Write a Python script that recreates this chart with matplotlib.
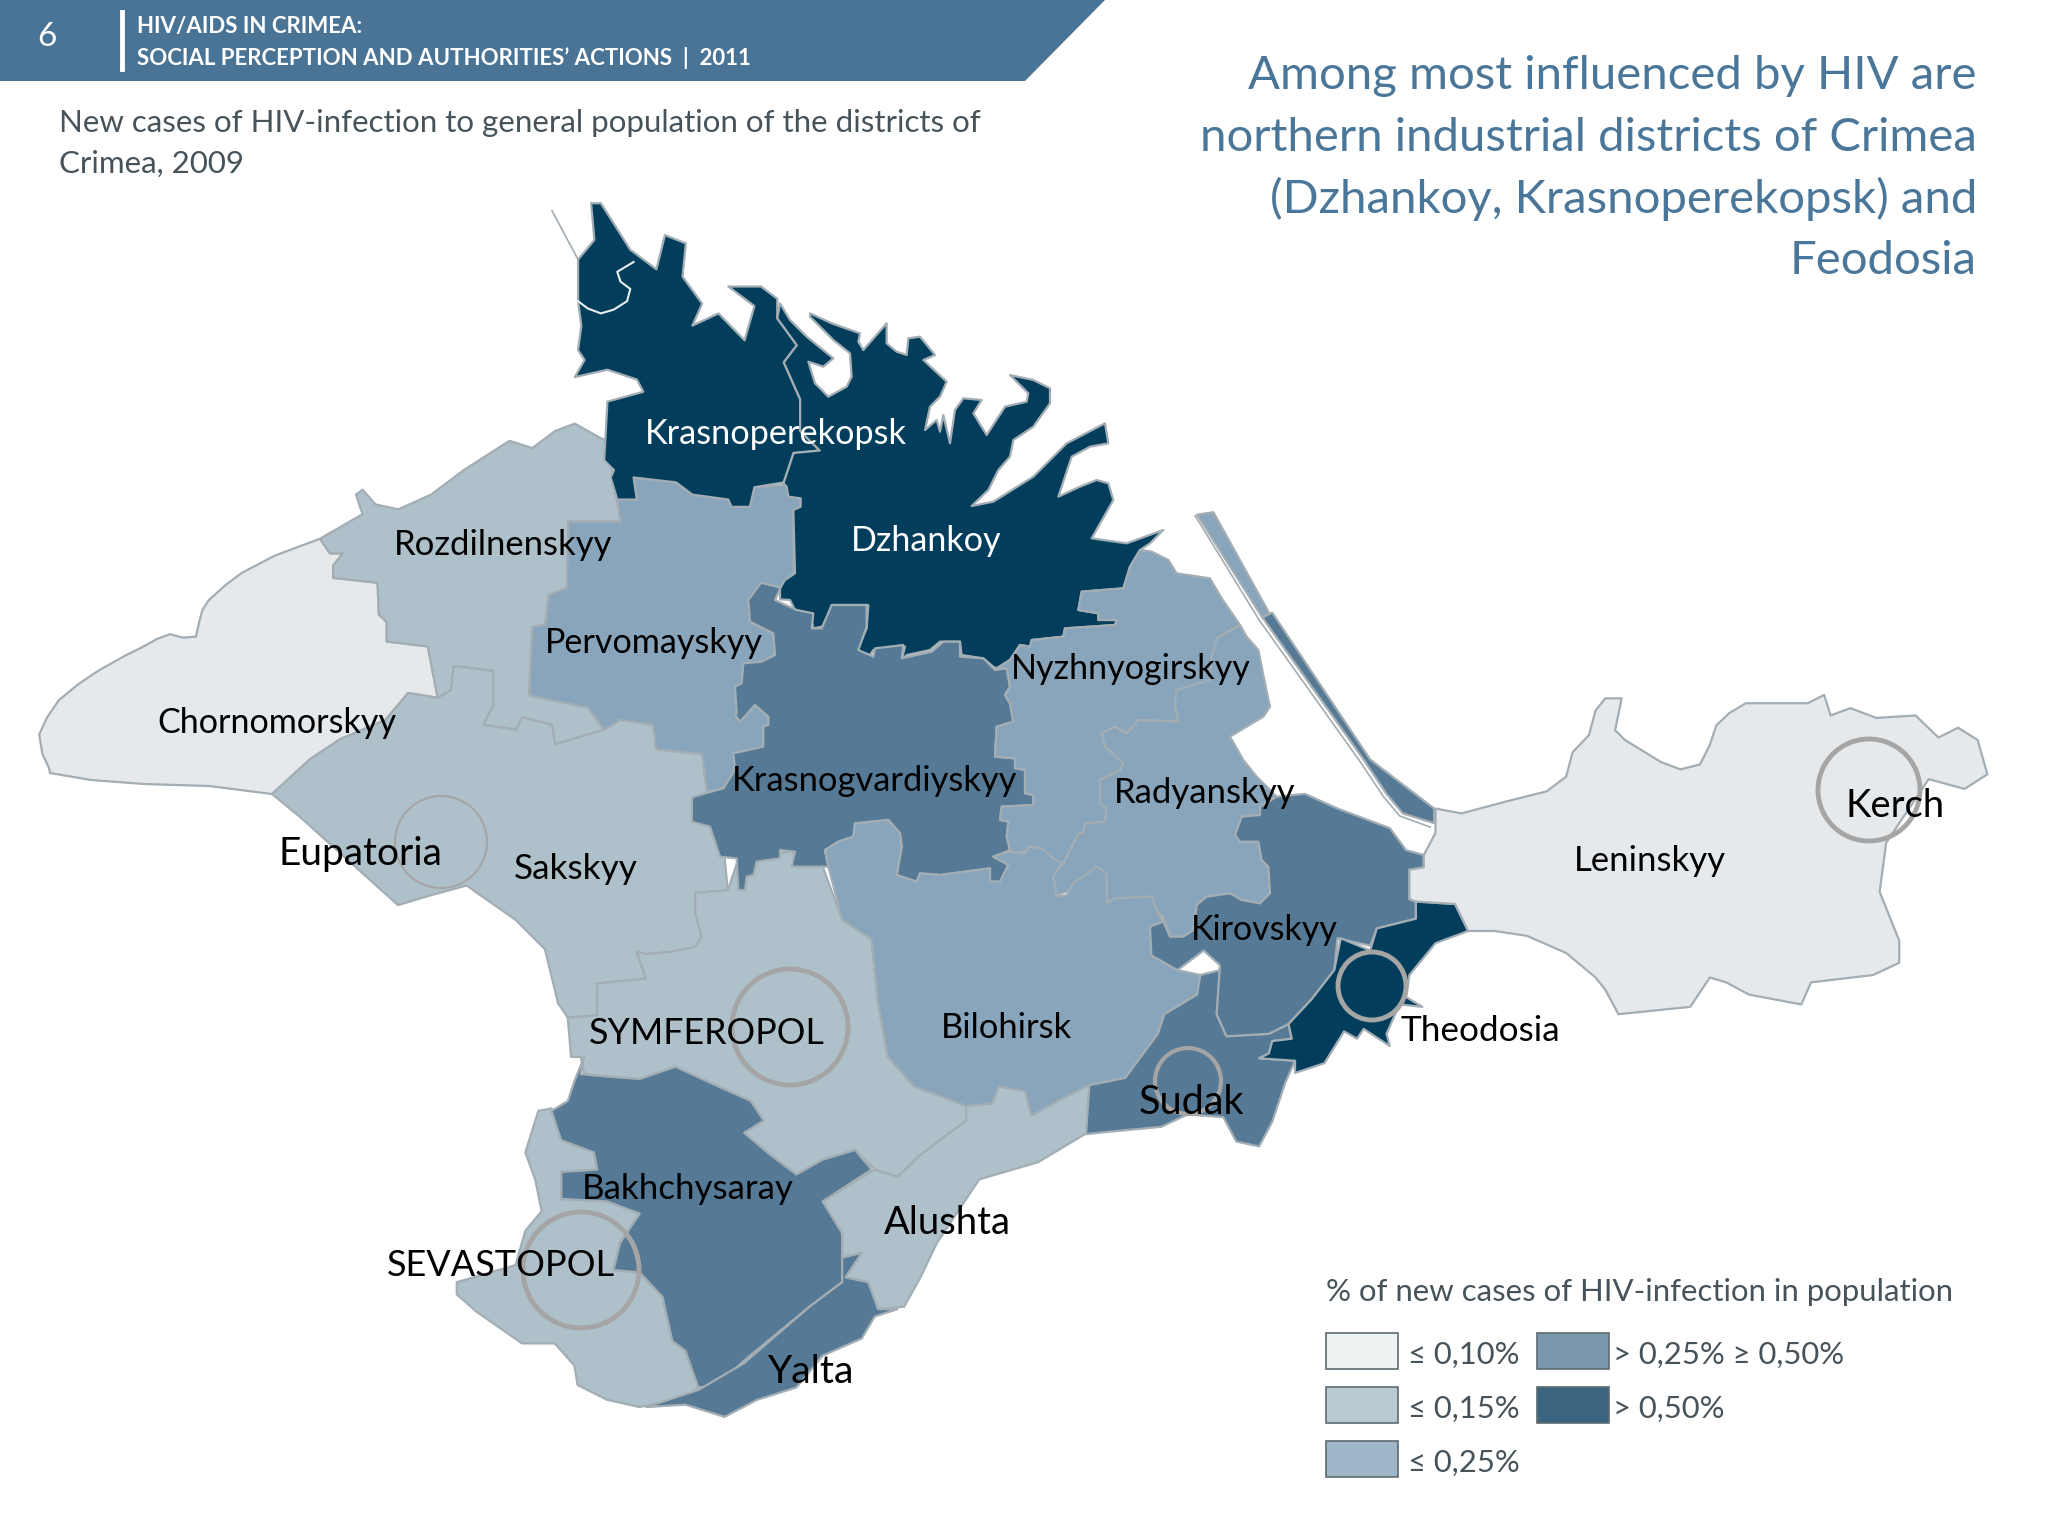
import numpy as np
import matplotlib
matplotlib.use('Agg')
import matplotlib.pyplot as plt
from matplotlib.patches import Polygon, Ellipse, Rectangle

plt.rcParams['font.family'] = ['Lato', 'DejaVu Sans']

Z1 = (0, 0, 1.531, 2.042)
Z2 = (1024, 500, 1.531, 2.042)
Z3 = (300, 768, 1.531, 2.042)
Z5 = (780, 280, 3, 3)
Z6 = (700, 600, 3, 3)
Z7 = (1000, 560, 3, 3)

def crop(z, pts):
    return [(z[0] + x / z[2], z[1] + y / z[3]) for x, y in pts]

LIGHT = '#E6E9EC'
PALE = '#AEC1CA'
MID = '#89A5BB'
STEEL = '#567A95'
DARK = '#023E5C'

chornomorskyy = crop(Z1, [(490,1100),(420,1135),(370,1170),(345,1195),(320,1225),(310,1245),(305,1270),(300,1300),(280,1302),(260,1295),(240,1305),(220,1320),(190,1340),(150,1370),(120,1397),(90,1430),(72,1465),(60,1500),(65,1540),(75,1568)]) \
    + [(50,773),(91,780),(144,784),(209,786),(272,794)] \
    + crop(Z1, [(475,1550),(520,1510),(590,1470),(625,1415),(670,1425),(655,1320),(592,1310),(592,1270),(580,1255),(578,1190),(510,1180),(510,1155),(525,1130),(505,1130)])
rozdilnenskyy = crop(Z1, [(490,1100),(555,1050),(545,1010),(555,1000),(575,1030),(610,1040),(660,1010),(710,960),(780,900),(815,915),(850,880),(880,865),(920,895),(930,900),(950,1065),(870,1065),(868,1200),(840,1215),(835,1275),(815,1280),(810,1420),(900,1445),(925,1490),(850,1520),(845,1480),(800,1465),(790,1490),(740,1480),(755,1440),(755,1370),(695,1360),(690,1410),(670,1425),(655,1320),(592,1310),(592,1270),(580,1255),(578,1190),(510,1180),(510,1155),(525,1130),(505,1130)])
sakskyy = crop(Z1, [(475,1550),(520,1510),(590,1470),(625,1415),(670,1425),(690,1410),(695,1360),(755,1370),(755,1440),(740,1480),(790,1490),(800,1465),(845,1480),(850,1520),(925,1490),(950,1470),(1000,1480),(1005,1530),(1075,1540)]) \
    + crop(Z3, [(620,0),(640,50),(655,250),(605,255),(605,295),(615,345),(605,365),(570,375),(530,380),(515,375),(530,430),(455,440),(455,505),(410,510),(395,480),(375,370),(330,310),(255,240),(200,260),(150,280),(100,220),(0,100)]) \
    + [(272,794)]
symferopol = crop(Z3, [(655,250),(670,190),(750,170),(800,200),(830,310),(875,350),(885,480),(900,590),(940,650),(1020,690),(1020,720),(950,790),(915,835),(880,820),(850,780),(800,800),(760,830),(720,790),(680,745),(710,720),(690,680),(640,650),(575,610),(520,635),(470,630),(435,625),(430,590),(415,590),(410,510),(455,505),(455,440),(530,430),(515,375),(530,380),(570,375),(605,365),(615,345),(605,295),(605,255)])
alushta = crop(Z3, [(1020,690),(1060,685),(1070,650),(1110,660),(1120,710),(1160,680),(1205,645),(1215,660),(1205,745),(1130,805),(1040,840),(1030,860),(975,970),(950,1040),(925,1100),(885,1105),(870,1050),(835,1040),(860,990),(830,1000),(830,950),(800,885),(880,820),(915,835),(950,790),(1020,720)])
bakhchysaray = crop(Z3, [(435,590),(430,625),(470,630),(520,635),(575,610),(640,650),(690,680),(710,720),(680,745),(720,790),(760,830),(800,800),(850,780),(875,820),(800,885),(830,950),(830,1050),(780,1100),(680,1210),(640,1260),(610,1265),(590,1190),(570,1170),(555,1080),(520,1030),(480,1025),(490,970),(520,910),(470,885),(400,880),(400,825),(455,820),(450,785),(400,760),(385,700),(410,680),(420,640)])
sevastopol = crop(Z3, [(385,695),(400,760),(450,785),(455,820),(400,825),(400,880),(470,885),(520,910),(490,970),(480,1025),(520,1030),(555,1080),(570,1170),(590,1190),(610,1265),(590,1285),(520,1305),(470,1290),(425,1260),(420,1220),(390,1175),(340,1175),(270,1110),(240,1075),(240,1050),(330,1015),(345,945),(370,905),(360,840),(345,785),(365,700)])
yalta = crop(Z3, [(530,1305),(610,1270),(680,1215),(780,1100),(830,1050),(830,1000),(860,990),(835,1040),(870,1050),(885,1105),(915,1105),(880,1120),(860,1165),(800,1200),(760,1265),(700,1290),(650,1325),(590,1300)])
pervomayskyy = crop(Z1, [(950,1065),(870,1065),(868,1200),(840,1215),(835,1275),(815,1280),(810,1420),(900,1445),(925,1490),(950,1470),(1000,1480),(1005,1530),(1075,1540)]) \
    + crop(Z6, [(20,575),(70,565),(105,510),(100,460),(190,440),(190,380),(205,375),(205,350),(165,315),(120,365),(105,345),(110,340),(105,260),(125,250),(130,190),(185,185),(225,165),(220,100),(150,65),(145,0)]) \
    + crop(Z1, [(1165,1190),(1195,1200),(1215,1170),(1215,1050),(1225,1045),(1225,1015),(1205,990),(1155,995),(1148,1035),(1120,1035),(1115,1020),(1060,1010),(1035,985),(970,975),(975,1020),(945,1020)])
krasnoperekopsk = crop(Z1, [(905,415),(920,415),(965,510),(1005,550),(1018,480),(1050,497),(1045,565),(1075,620),(1060,665),(1100,640),(1140,695),(1155,625),(1115,585),(1165,585),(1190,610),(1190,650),(1220,705),(1200,740),(1225,815),(1225,880),(1255,920),(1215,925),(1200,985),(1155,995),(1148,1035),(1120,1035),(1115,1020),(1060,1010),(1035,985),(970,975),(975,1020),(945,1020),(935,975),(940,960),(925,940),(930,820),(985,800),(975,775),(930,755),(880,770),(895,735),(885,715),(890,665),(885,615),(885,530),(910,490)])
perekop_lake = crop(Z1, [(970,535),(945,555),(950,575),(965,590),(960,615),(940,632),(920,640),(900,630),(885,615)])
perekop_line = crop(Z1, [(845,430),(885,530)])
dzhankoy = crop(Z5, [(0,70),(30,120),(80,170),(160,235),(130,260),(85,245),(105,310),(145,350),(200,320),(215,290),(210,220),(160,180),(90,110),(90,100),(155,130),(240,160),(235,185),(250,210),(320,130),(320,190),(350,215),(380,225),(385,175),(420,170),(465,225),(430,240),(500,305),(480,350),(450,380),(435,450),(470,420),(480,455),(490,405),(510,490),(525,390),(550,355),(605,360),(580,400),(620,465),(675,380),(740,365),(745,340),(690,285),(760,300),(810,325),(810,370),(760,440),(700,480),(690,530),(655,570),(625,630),(575,678),(640,665),(760,590),(860,490),(975,430),(985,490),(930,500),(875,530),(835,650),(900,620),(950,600),(985,610),(1000,660),(935,775),(1040,790),(1150,750),(1110,790),(1080,810),(1050,860),(1030,925),(905,935),(895,990),(955,1000),(955,1020),(1010,1020),(1005,1035),(855,1045),(850,1070),(755,1080),(750,1100),(720,1095),(690,1140),(650,1165),(640,1160),(610,1135),(545,1125),(540,1085),(480,1085),(450,1110),(380,1125),(365,1140),(375,1100),(280,1110),(270,1125),(230,1115),(260,1045),(265,975),(155,975),(150,1020),(125,1040),(100,1045),(90,1000),(45,990),(30,960),(0,958),(0,925),(15,900),(45,880),(40,690),(62,680),(62,655),(25,650),(20,620),(10,610)]) \
    + crop(Z1, [(1200,985),(1215,925),(1255,920),(1225,880),(1225,815),(1200,740),(1220,705),(1190,650)])
krasnogvardiyskyy = crop(Z6, [(145,0)]) + crop(Z1, [(1165,1190),(1195,1200)]) \
    + crop(Z6, [(225,0),(290,30),(340,40),(335,85),(365,85),(395,15),(500,15),(500,80),(475,150),(520,170),(525,145),(610,135),(605,175),(695,155),(730,125),(780,125),(780,170),(850,175),(885,210),(920,205),(930,260),(915,285),(930,310),(940,365),(890,380),(885,470),(945,475),(945,505),(975,510),(975,580),(1000,585),(1000,615),(905,620),(900,660),(925,665),(920,710),(930,750),(880,770),(925,795),(900,845),(870,845),(870,805),(720,825),(660,820),(650,845),(590,825),(605,740),(600,700),(565,660),(465,670),(460,710),(415,725),(375,750),(385,800),(275,800),(285,755),(240,750),(240,775),(170,785),(160,825),(140,830),(135,870),(115,870),(110,775),(60,770),(30,680)]) \
    + crop(Z3, [(600,110),(600,60),(625,50)]) \
    + crop(Z6, [(70,565),(105,510),(100,460),(190,440),(190,380),(205,375),(205,350),(165,315),(120,365),(105,345),(110,340),(105,260),(125,250),(130,190),(185,185),(225,165),(220,100),(150,65)])
nyzhnyogirskyy = crop(Z5, [(650,1165),(690,1140),(720,1095),(750,1100),(755,1080),(850,1070),(855,1045),(1005,1035),(1010,1020),(955,1020),(955,1000),(895,990),(905,935),(1030,925),(1050,860),(1080,810),(1115,815),(1165,840),(1190,880)]) \
    + crop(Z7, [(630,55),(665,115),(720,195),(650,235),(635,290),(630,360),(530,390),(525,430),(535,485),(415,480),(380,520),(345,500),(305,520),(315,560),(370,610),(360,630),(300,660),(300,730),(320,745),(315,785),(255,790),(250,820),(235,820),(190,910),(160,905),(125,865),(95,860),(70,875),(30,880)]) \
    + crop(Z6, [(930,750),(920,710),(925,665),(900,660),(905,620),(1000,615),(1000,585),(975,580),(975,510),(945,505),(945,475),(885,470),(890,380),(940,365),(930,310),(915,285),(930,260),(920,205)])
radyanskyy = crop(Z7, [(720,195),(740,230),(775,270),(795,370),(810,440),(790,470),(690,530),(730,600),(770,650),(830,710),(780,740),(780,765),(725,770),(705,825),(720,845),(775,845),(785,900),(805,920),(810,1000),(780,1030),(725,1020),(690,1000),(620,1010),(590,1035),(580,1110),(550,1130),(510,1130),(490,1070),(470,1050),(455,1010),(345,1015),(320,1030),(320,945),(290,925),(215,990),(170,1005),(160,945),(190,910),(235,820),(250,820),(255,790),(315,785),(320,745),(300,730),(300,660),(360,630),(370,610),(315,560),(305,520),(345,500),(380,520),(415,480),(535,485),(525,430),(530,390),(630,360),(635,290),(650,235)])
bilohirsk = crop(Z6, [(385,800),(375,750),(415,725),(460,710),(465,670),(565,660),(600,700),(605,740),(590,825),(650,845),(660,820),(720,825),(870,805),(870,845),(900,845),(925,795),(880,770),(925,755),(975,760),(985,740),(1025,745),(1060,775),(1085,790),(1060,830),(1070,890),(1100,885),(1120,850),(1190,800),(1220,820),(1220,910)]) \
    + crop(Z7, [(345,1015),(455,1010),(470,1050),(490,1085),(450,1100)]) \
    + crop(Z2, [(195,930),(235,960),(270,970),(265,1010),(215,1050),(205,1090),(155,1180),(100,1195)]) \
    + crop(Z3, [(1160,680),(1120,710),(1110,660),(1070,650),(1060,685),(1020,690),(940,650),(900,590),(885,480),(875,350),(830,310)])
sudak = crop(Z2, [(215,1050),(265,1010),(270,970),(300,960),(295,1050),(310,1095),(375,1090),(405,1070),(410,1100),(380,1105),(375,1130),(360,1140),(415,1145),(400,1190),(380,1270),(360,1320),(325,1310),(305,1260),(250,1255),(210,1280),(130,1290),(95,1295),(100,1195),(155,1180),(205,1090)])
kirovskyy = crop(Z7, [(830,710),(780,740),(780,765),(725,770),(705,825),(720,845),(775,845),(785,900),(805,920),(810,1000),(780,1030),(725,1020),(690,1000),(620,1010),(590,1035),(580,1110),(550,1130),(510,1130),(490,1085),(450,1100)]) \
    + crop(Z2, [(195,930),(235,960),(275,920),(300,950),(295,1050),(310,1095),(375,1090),(405,1070),(440,1020),(475,960),(480,895),(530,910),(540,875),(600,855),(600,820),(590,815),(590,755),(612,750),(612,725),(585,715),(560,670),(480,630),(430,600)])
theodosia = crop(Z2, [(600,820),(660,825),(680,880),(630,905),(590,970),(585,1015),(610,1035),(575,1030),(555,1090),(560,1115),(520,1080),(510,1100),(490,1085),(460,1150),(415,1170),(415,1145),(360,1140),(375,1130),(380,1105),(410,1100),(405,1070),(440,1020),(475,960),(485,895),(530,920),(540,875),(600,855)])
leninskyy = crop(Z2, [(630,630),(670,640),(740,615),(800,595),(830,565),(840,515),(865,480),(875,430),(890,405),(915,405),(905,470),(920,490),(975,535),(1005,550),(1035,540),(1050,500),(1060,460),(1080,435),(1105,415),(1200,415),(1225,398),(1235,440),(1265,425),(1305,445),(1365,440),(1400,485),(1430,465),(1460,490),(1475,560),(1440,590),(1385,570),(1340,660),(1320,700),(1310,800),(1340,900),(1340,945),(1300,970),(1205,985),(1190,1030),(1110,1010),(1075,985),(1050,975),(1020,1035),(910,1050),(890,1000),(875,975),(830,925),(770,890),(720,880),(680,880),(660,825),(600,820),(590,815),(590,755),(612,750),(612,725),(630,680)])
spit_north = crop(Z2, [(265,30),(290,25),(375,230),(365,240)])
spit_south = crop(Z2, [(365,240),(380,230),(530,530),(628,630),(628,660),(580,640),(555,600),(520,530)])
spit_shore = crop(Z2, [(262,32),(360,245),(515,535),(550,605),(575,645),(622,668)])

districts = [
    (chornomorskyy, LIGHT), (rozdilnenskyy, PALE), (sakskyy, PALE), (symferopol, PALE),
    (alushta, PALE), (sevastopol, PALE), (bakhchysaray, STEEL), (yalta, STEEL),
    (pervomayskyy, MID), (krasnoperekopsk, DARK), (dzhankoy, DARK), (krasnogvardiyskyy, STEEL),
    (nyzhnyogirskyy, MID), (radyanskyy, MID), (bilohirsk, MID), (sudak, STEEL),
    (kirovskyy, STEEL), (theodosia, DARK), (leninskyy, LIGHT), (spit_north, MID), (spit_south, STEEL),
]

# name, x, y, size, colour
labels = [
    ('Krasnoperekopsk', 776, 434, 24.7, 'white'), ('Dzhankoy', 926, 541, 24.6, 'white'),
    ('Rozdilnenskyy', 503, 545, 24.9, 'black'), ('Pervomayskyy', 654, 643, 24.6, 'black'),
    ('Chornomorskyy', 277, 723, 24.6, 'black'), ('Nyzhnyogirskyy', 1131, 669, 24.6, 'black'),
    ('Krasnogvardiyskyy', 875, 781, 24.8, 'black'), ('Radyanskyy', 1205, 793, 25, 'black'),
    ('Eupatoria', 360, 854, 28, 'black'), ('Sakskyy', 576, 869, 25.3, 'black'),
    ('Kirovskyy', 1264, 930, 24.5, 'black'), ('Leninskyy', 1650, 861, 25, 'black'),
    ('Kerch', 1895, 806, 27.5, 'black'), ('Bilohirsk', 1006, 1028, 24.8, 'black'),
    ('Theodosia', 1480, 1031, 25.3, 'black'), ('SYMFEROPOL', 707, 1033, 25.8, 'black'),
    ('Sudak', 1191, 1103, 28.5, 'black'), ('Bakhchysaray', 688, 1189, 25.1, 'black'),
    ('Alushta', 947, 1223, 27.5, 'black'), ('SEVASTOPOL', 501, 1265, 26, 'black'),
    ('Yalta', 810, 1372, 28.2, 'black'),
]

# x, y, radius, line width
city_rings = [(441, 842, 46, 1.5), (790, 1027, 58, 3.5), (581, 1270, 58, 3.5),
              (1188, 1081, 33, 3), (1372, 986, 34, 3.5), (1869, 790, 51, 3.5)]

legend_title = '% of new cases of HIV-infection in population'
legend_labels = ['≤ 0,10%', '≤ 0,15%', '≤ 0,25%', '> 0,25% ≥ 0,50%', '> 0,50%']
legend_colors = ['#EFF2F3', '#B9CBD1', '#9FB5C8', '#7996AB', '#3A6480']
legend_cells = [(1326, 1333), (1326, 1387), (1326, 1441), (1537, 1333), (1537, 1387)]

title_lines = ['Among most influenced by HIV are', 'northern industrial districts of Crimea',
               '(Dzhankoy, Krasnoperekopsk) and', 'Feodosia']
title_rows = [76, 138, 199, 261]

fig = plt.figure(figsize=(20.48, 15.36), dpi=100)
ax = fig.add_axes([0, 0, 1, 1])
ax.set_xlim(0, 2048)
ax.set_ylim(1536, 0)
ax.axis('off')

# banner
ax.add_patch(Polygon([(0, 0), (1105, 0), (1025, 81), (0, 81)], fc='#4A7495', ec='none'))
ax.plot([122, 122], [12, 69], color='white', lw=3.5)
ax.text(47, 37, '6', color='white', fontsize=24, ha='center', va='center')
ax.text(137, 26, 'HIV/AIDS IN CRIMEA:', color='white', fontsize=16, fontweight='bold', va='center')
ax.text(137, 58, 'SOCIAL PERCEPTION AND AUTHORITIES’ ACTIONS  |  2011', color='white', fontsize=16,
        fontweight='bold', va='center')

ax.text(59, 123, 'New cases of HIV-infection to general population of the districts of',
        color='#47535A', fontsize=22.5, va='center')
ax.text(59, 164, 'Crimea, 2009', color='#47535A', fontsize=22.5, va='center')
for line, row in zip(title_lines, title_rows):
    ax.text(1977, row, line, color='#4A7799', fontsize=34, ha='right', va='center')

for outline, colour in districts:
    ax.add_patch(Polygon(outline, closed=True, fc=colour, ec='#A3ADB4', lw=1.6, joinstyle='round'))

ax.plot(*zip(*perekop_lake), color='#E8EEF2', lw=1.5)
ax.plot(*zip(*perekop_line), color='#A3ADB4', lw=1.2)
ax.plot(*zip(*spit_shore), color='#A3ADB4', lw=1.2)

for x, y, r, lw in city_rings:
    ax.add_patch(Ellipse((x, y), 2 * r, 2 * r, fc='none', ec='#A5A5A5', lw=lw))

for name, x, y, size, colour in labels:
    ax.text(x, y, name, color=colour, fontsize=size, ha='center', va='center')

# legend
ax.text(1326, 1292, legend_title, color='#47535A', fontsize=22.4, va='center')
for (x, y), colour, label in zip(legend_cells, legend_colors, legend_labels):
    ax.add_patch(Rectangle((x, y), 72, 36, fc=colour, ec='#5E6B70', lw=1.2))
    ax.text(x + 82 if x < 1500 else x + 76, y + 22, label, color='#47535A', fontsize=22.3, va='center')

fig.savefig('out.png', dpi=100)
